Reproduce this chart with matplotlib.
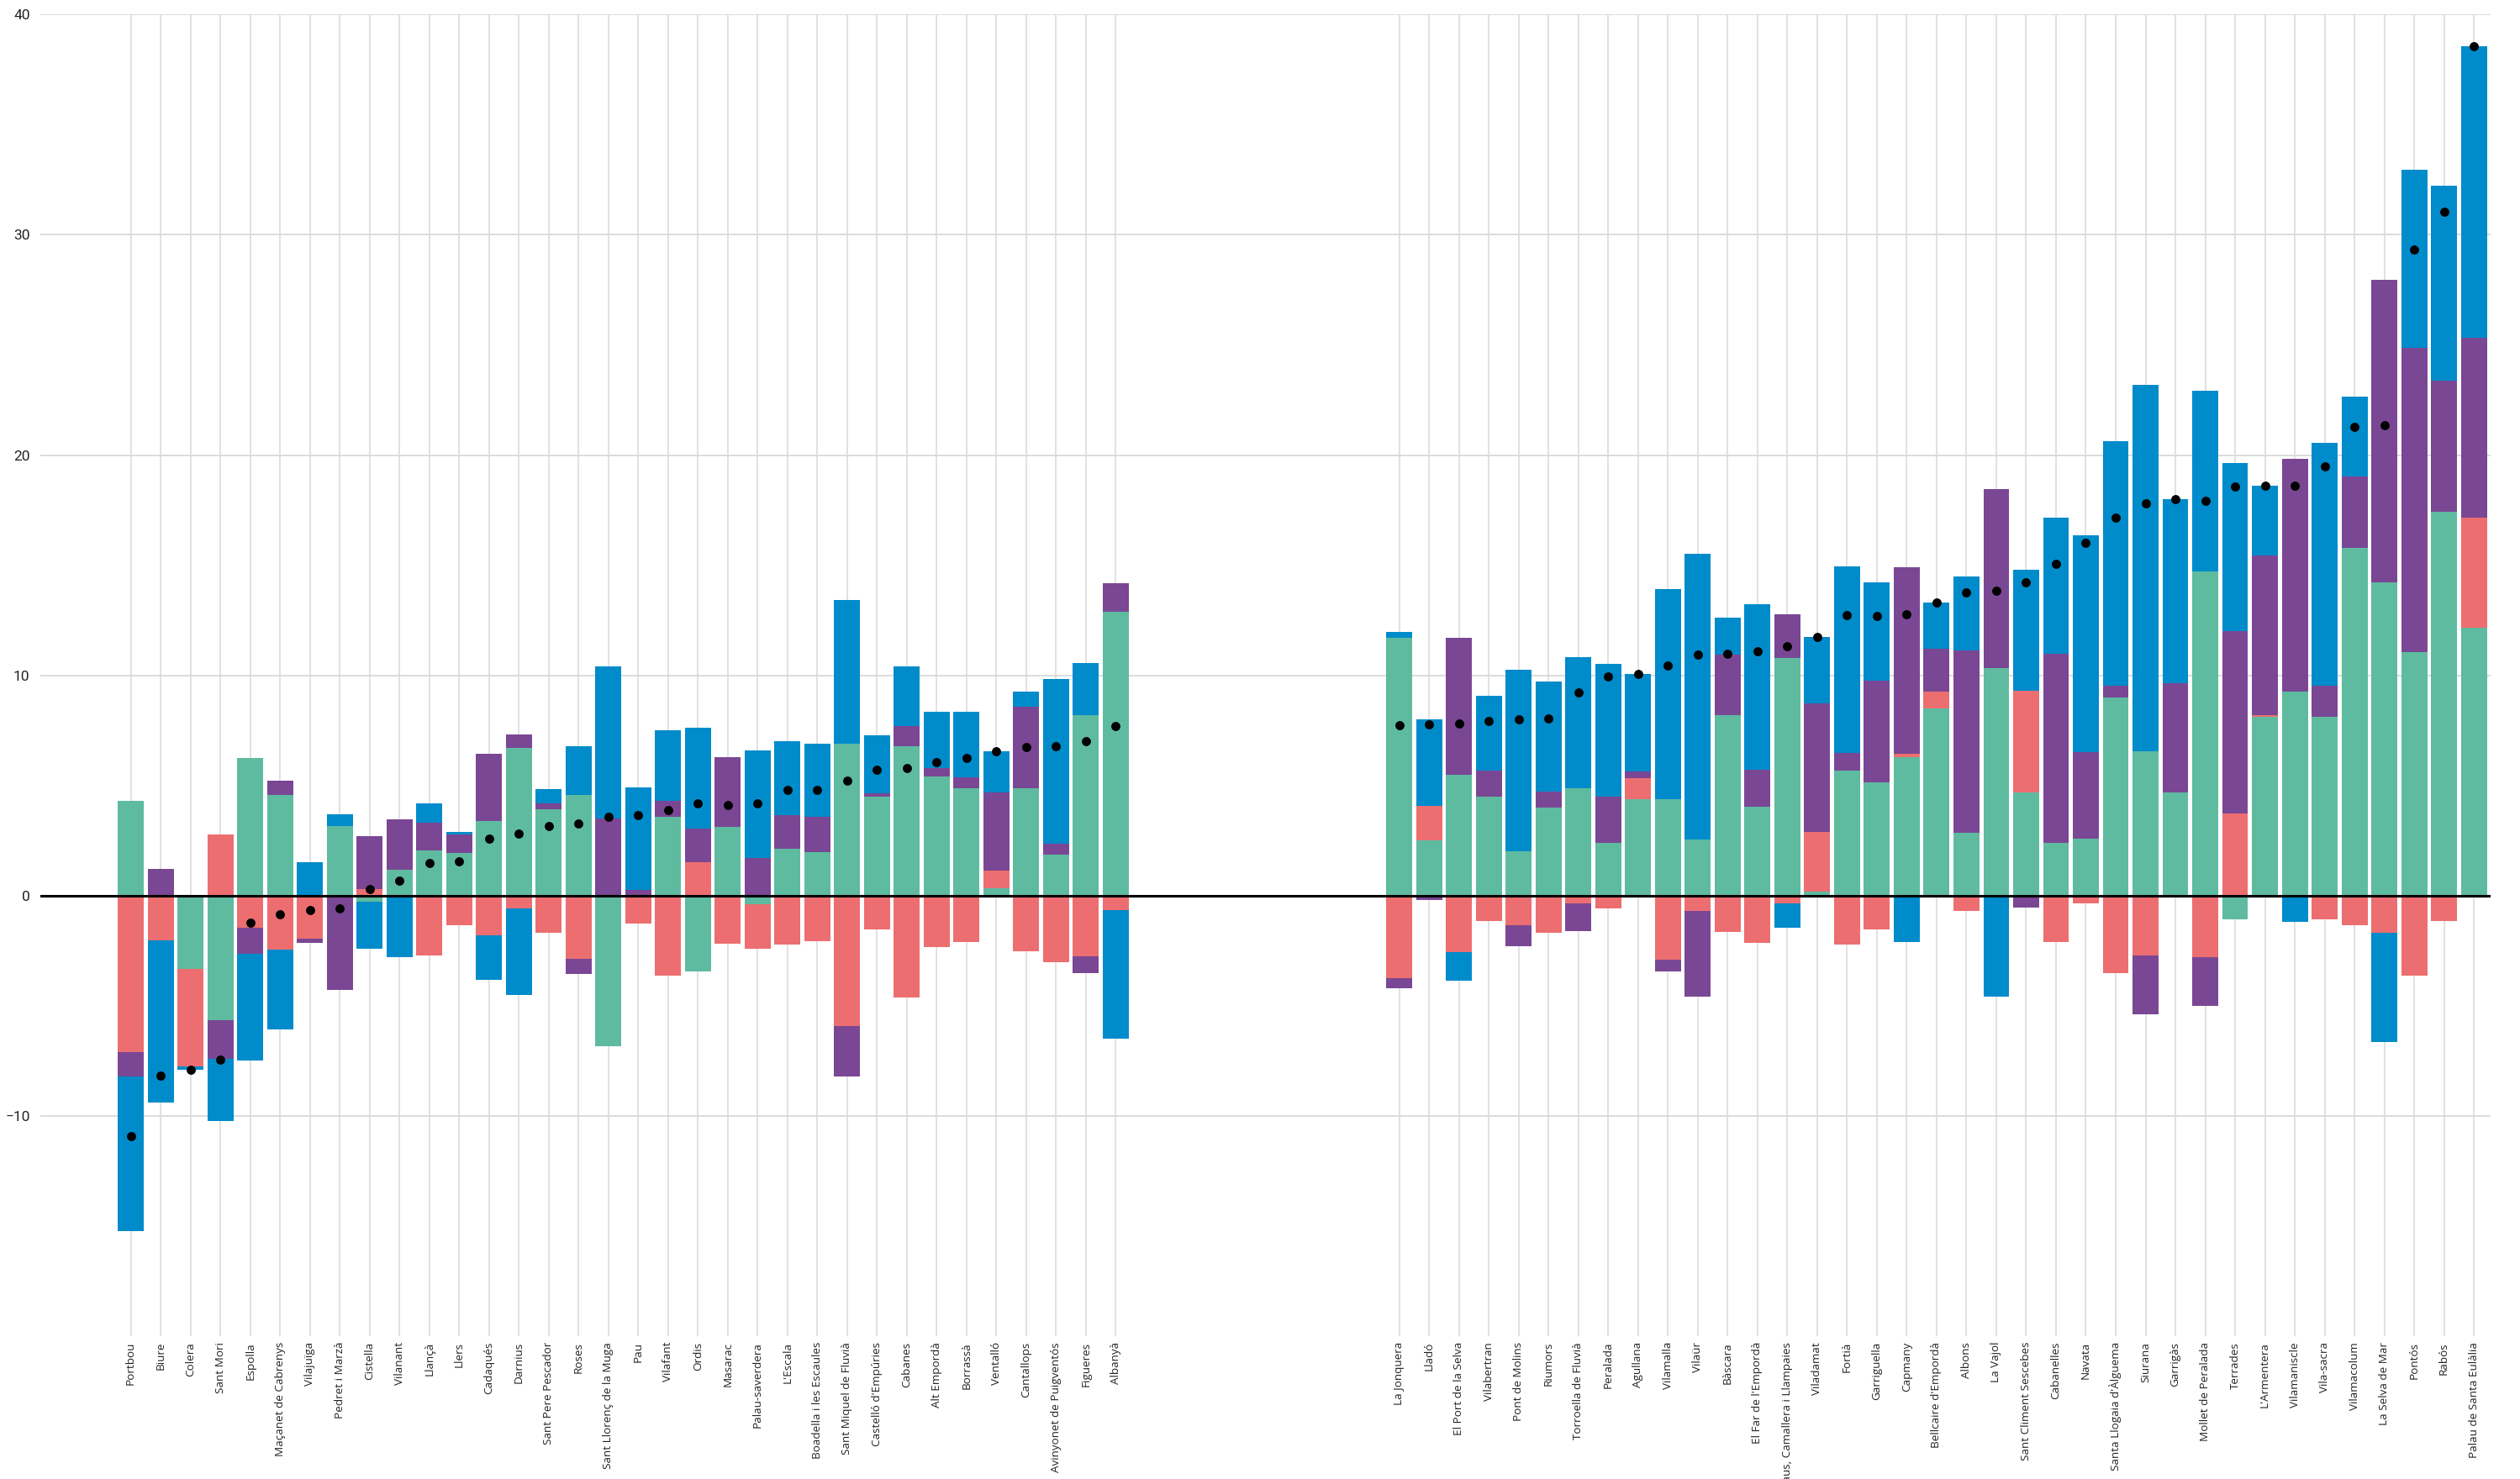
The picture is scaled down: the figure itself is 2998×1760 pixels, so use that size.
import numpy as np
import matplotlib
matplotlib.use("Agg")
import matplotlib.pyplot as plt

# municipalities, two groups, each sorted by net value
names_left = ["Portbou", "Biure", "Colera", "Sant Mori", "Espolla", "Maçanet de Cabrenys",
              "Vilajuïga", "Pedret i Marzà", "Cistella", "Vilanant", "Llançà", "Llers",
              "Cadaqués", "Darnius", "Sant Pere Pescador", "Roses", "Sant Llorenç de la Muga",
              "Pau", "Vilafant", "Ordis", "Masarac", "Palau-saverdera", "L'Escala",
              "Boadella i les Escaules", "Sant Miquel de Fluvià", "Castelló d'Empúries",
              "Cabanes", "Alt Empordà", "Borrassà", "Ventalló", "Cantallops",
              "Avinyonet de Puigventós", "Figueres", "Albanyà"]
green_left = [4.3, 0, -3.32, -5.64, 6.26, 4.58, -0.08, 3.16, -0.28, 1.18, 2.06, 1.94,
              3.4, 6.72, 3.92, 4.58, -6.84, 0, 3.58, -3.44, 3.12, -0.4, 2.12,
              1.98, 6.88, 4.5, 6.8, 5.42, 4.88, 0.34, 4.88, 1.86, 8.2, 12.9]
red_left = [-7.12, -2.04, -4.42, 2.78, -1.46, -2.46, -1.88, 0, 0.3, 0, -2.72, -1.36,
            -1.82, -0.58, -1.68, -2.88, 0, -1.28, -3.64, 1.52, -2.2, -2.0, -2.24,
            -2.08, -5.94, -1.54, -4.62, -2.32, -2.12, 0.8, -2.52, -3.02, -2.76, -0.66]
purple_left = [-1.08, 1.22, 0, -1.76, -1.18, 0.64, -0.2, -4.3, 2.4, 2.28, 1.26, 0.82,
               3.02, 0.58, 0.28, -0.66, 3.5, 0.26, 0.72, 1.52, 3.18, 1.72, 1.54,
               1.58, -2.28, 0.16, 0.88, 0.38, 0.5, 3.56, 3.68, 0.5, -0.76, 1.28]
blue_left = [-7.02, -7.36, -0.18, -2.82, -4.84, -3.6, 1.52, 0.54, -2.14, -2.78, 0.88, 0.14,
             -2.02, -3.92, 0.64, 2.22, 6.92, 4.66, 3.22, 4.6, 0, 4.88, 3.36,
             3.32, 6.54, 2.6, 2.74, 2.56, 2.98, 1.84, 0.72, 7.46, 2.34, -5.84]

names_right = ["La Jonquera", "Lladó", "El Port de la Selva", "Vilabertran", "Pont de Molins",
               "Riumors", "Torroella de Fluvià", "Peralada", "Agullana", "Vilamalla", "Vilaür",
               "Bàscara", "El Far de l'Empordà", "Saus, Camallera i Llampaies", "Viladamat",
               "Fortià", "Garriguella", "Capmany", "Bellcaire d'Empordà", "Albons", "La Vajol",
               "Sant Climent Sescebes", "Cabanelles", "Navata", "Santa Llogaia d'Àlguema",
               "Siurana", "Garrigàs", "Mollet de Peralada", "Terrades", "L'Armentera",
               "Vilamaniscle", "Vila-sacra", "Vilamacolum", "La Selva de Mar", "Pontós",
               "Rabós", "Palau de Santa Eulàlia"]
green_right = [11.72, 2.52, 5.5, 4.48, 2.02, 3.98, 4.89, 2.39, 4.36, 4.36, 2.55,
               8.18, 4.02, 10.8, 0.19, 5.68, 5.16, 6.3, 8.5, 2.84, 10.34,
               4.68, 2.4, 2.59, 8.99, 6.57, 4.69, 14.71, -1.09, 8.11,
               9.26, 8.11, 15.8, 14.23, 11.05, 17.41, 12.17]
red_right = [-3.74, 1.57, -2.55, -1.15, -1.34, -1.68, -0.34, -0.59, 0.99, -2.91, -0.7,
             -1.64, -2.13, -0.35, 2.69, -2.24, -1.53, 0.13, 0.78, -0.7, 0,
             4.63, -2.09, -0.35, -3.5, -2.72, 0, -2.79, 3.72, 0.09,
             0, -1.09, -1.36, -1.67, -3.63, -1.15, 5.0]
purple_right = [-0.48, -0.21, 6.21, 1.18, -0.94, 0.75, -1.27, 2.12, 0.29, -0.55, -3.88,
                2.77, 1.7, 1.97, 5.83, 0.79, 4.58, 8.47, 1.93, 8.29, 8.11,
                -0.54, 8.58, 3.94, 0.52, -2.67, 4.94, -2.21, 8.27, 7.24,
                10.57, 1.4, 3.21, 13.74, 13.81, 5.96, 8.14]
blue_right = [0.25, 3.91, -1.33, 3.43, 8.25, 4.98, 5.95, 6.02, 4.44, 9.55, 12.98,
              1.67, 7.5, -1.1, 3.04, 8.49, 4.5, -2.11, 2.08, 3.34, -4.6,
              5.47, 6.18, 9.84, 11.13, 16.62, 8.35, 8.21, 7.66, 3.18,
              -1.21, 11.05, 3.64, -4.96, 8.11, 8.84, 13.26]

colors = ["#5ebba0", "#ec6e70", "#7a4794", "#008bcb"]

names = names_left + names_right
series = [np.array(green_left + green_right),
          np.array(red_left + red_right),
          np.array(purple_left + purple_right),
          np.array(blue_left + blue_right)]
x = np.concatenate([np.arange(len(names_left)), 42.5 + np.arange(len(names_right))])
net = series[0] + series[1] + series[2] + series[3]

plt.rcParams["font.family"] = ["Open Sans", "DejaVu Sans"]

fig = plt.figure(figsize=(29.98, 17.6), dpi=100)
ax = fig.add_axes([48 / 2998, 1 - 1590 / 1760, (2963 - 48) / 2998, (1590 - 17.3) / 1760])

#stack up positives and down negatives in the same order
pos_base = np.zeros(len(x))
neg_base = np.zeros(len(x))
for vals, col in zip(series, colors):
    base = np.where(vals >= 0, pos_base, neg_base)
    ax.bar(x, vals, width=0.87, bottom=base, color=col, zorder=2, linewidth=0)
    pos_base = pos_base + np.where(vals > 0, vals, 0)
    neg_base = neg_base + np.where(vals < 0, vals, 0)

ax.axhline(0, color="black", lw=2.2, zorder=3)
ax.plot(x, net, "o", color="black", markersize=6.8, zorder=4)

ax.set_xlim(-3.03, 79.06)
ax.set_ylim(-20, 40)
ax.set_yticks([-10, 0, 10, 20, 30, 40])
ax.set_xticks(x)
ax.set_xticklabels(names, rotation=90, fontsize=9.7, color="#222222")
ax.tick_params(axis="x", length=0, pad=5)
ax.tick_params(axis="y", length=0, pad=9, labelsize=12.5, labelcolor="#222222")
for lab in ax.get_yticklabels():
    lab.set_family(["Roboto", "DejaVu Sans"])

ax.set_axisbelow(True)
ax.grid(axis="y", color="#d9d9d9", lw=1.3)
ax.grid(axis="x", color="#d9d9d9", lw=1.1)
for s in ax.spines.values():
    s.set_visible(False)

fig.savefig("out.png", dpi=100)
